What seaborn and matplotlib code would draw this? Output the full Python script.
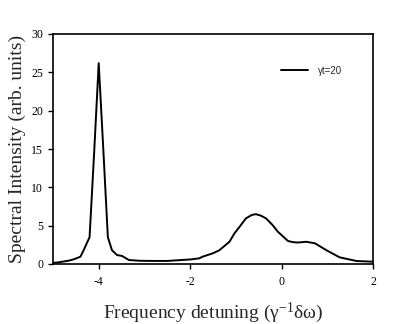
import matplotlib
matplotlib.use("Agg")
import matplotlib.pyplot as plt
import numpy as np
import pandas as pd
import seaborn as sns

# spectrum (gamma*t = 20)
detuning = [-5.0, -4.9, -4.66, -4.55, -4.4, -4.33, -4.2, -4.1, -4.0,
            -3.9, -3.8, -3.71, -3.6, -3.49, -3.34, -3.1, -2.8, -2.5, -2.24, -1.98,
            -1.8, -1.73, -1.5, -1.36, -1.14, -1.03, -0.9, -0.78, -0.65, -0.56,
            -0.45, -0.34, -0.2, -0.08, 0.14, 0.25, 0.36, 0.54, 0.73, 0.98,
            1.27, 1.64, 2.0]
intensity = [0.15, 0.2, 0.43, 0.6, 0.95, 1.8, 3.5, 14.5, 26.2,
             15.0, 3.5, 1.8, 1.17, 1.05, 0.52, 0.42, 0.4, 0.4, 0.5, 0.6,
             0.74, 0.95, 1.4, 1.8, 2.9, 4.0, 5.0, 5.95, 6.4, 6.5,
             6.3, 5.95, 5.1, 4.2, 3.0, 2.85, 2.8, 2.9, 2.7, 1.8,
             0.87, 0.39, 0.3]
series_label = "\u03b3t=20"

df = pd.DataFrame({"x": detuning, "y": intensity})

sns.set_style("ticks")
plt.rcParams["font.family"] = ["Liberation Serif", "DejaVu Serif"]
plt.rcParams["axes.unicode_minus"] = False
plt.rcParams["mathtext.fontset"] = "custom"
plt.rcParams["mathtext.rm"] = "Liberation Serif"
plt.rcParams["mathtext.it"] = "Liberation Serif:italic"

fig = plt.figure(figsize=(4.14, 3.24), dpi=100)
ax = fig.add_axes([53 / 414, 60 / 324, 320 / 414, 230 / 324])

sns.lineplot(data=df, x="x", y="y", ax=ax, color="black", linewidth=1.4,
             sort=False, label=series_label)

ax.set_xlim(-5, 2)
ax.set_ylim(0, 30)
ax.set_xticks([-4, -2, 0, 2])
ax.set_yticks([0, 5, 10, 15, 20, 25, 30])
ax.tick_params(axis="both", labelsize=8.5, length=3.5, width=1, direction="out",
               colors="black")
ax.tick_params(axis="x", pad=5)
for s in ax.spines.values():
    s.set_visible(True)
    s.set_linewidth(1.2)
    s.set_color("black")

ax.set_xlabel("Frequency detuning (\u03b3$^{\\mathrm{-1}}$\u03b4\u03c9)", fontsize=14,
              labelpad=9)
ax.set_ylabel("Spectral Intensity (arb. units)", fontsize=14, labelpad=4)

leg = ax.legend(loc="upper right", bbox_to_anchor=(0.93, 0.90), frameon=False,
                prop={"family": "Liberation Sans", "size": 7},
                handlelength=2.8, handletextpad=1.0)

fig.savefig("out.png", dpi=100)
